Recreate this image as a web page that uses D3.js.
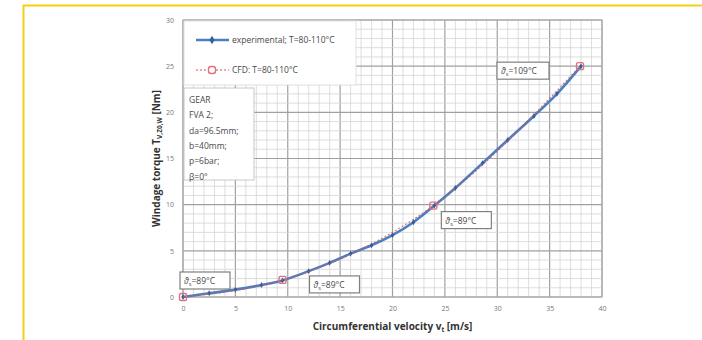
<!DOCTYPE html>
<html>
<head>
<meta charset="utf-8">
<script src="https://cdn.jsdelivr.net/npm/d3@7/dist/d3.min.js"></script>
<style>
  body { margin: 0; background: #fff; }
  svg { display: block; font-family: "Open Sans", "Liberation Sans", sans-serif; }
</style>
</head>
<body>
<svg id="chart" width="702" height="340"></svg>
<script>
// ticks
var xTicks = [0, 5, 10, 15, 20, 25, 30, 35, 40];
var yTicks = [0, 5, 10, 15, 20, 25, 30];

// experimental measurement, T = 80-110 °C
var expV = [0, 2.5, 5, 7.5, 9.5, 12, 14, 16, 18, 20, 22, 24, 26, 28.6, 31, 33.5, 35.7, 38];
var expT = [0, 0.4, 0.8, 1.3, 1.8, 2.8, 3.7, 4.7, 5.6, 6.7, 8.1, 9.9, 11.8, 14.5, 17.0, 19.6, 22.0, 25];

// CFD simulation
var cfdV = [0, 9.5, 23.9, 37.9];
var cfdT = [0, 1.85, 9.9, 25];
var cfdTemp = ["89", "89", "89", "109"];

// gear parameters
var gearInfo = ["GEAR", "FVA 2;", "da=96.5mm;", "b=40mm;", "p=6bar;", "β=0°"];

var svg = d3.select("#chart");

// yellow frame
svg.append("path")
    .attr("d", "M23.5,340 L23.5,5.5 L702,5.5")
    .attr("fill", "none")
    .attr("stroke", "#f4cf12")
    .attr("stroke-width", 2);

var x = d3.scaleLinear().domain([0, 40]).range([183, 602]);
var y = d3.scaleLinear().domain([0, 30]).range([297, 20]);

// grid
var g = svg.append("g");
g.selectAll(".minx").data(d3.range(0, 41, 1)).enter().append("line")
    .attr("x1", d => x(d)).attr("x2", d => x(d))
    .attr("y1", y(0)).attr("y2", y(30))
    .attr("stroke", d => d % 5 == 0 ? "#a0a0a0" : "#d4d4d4")
    .attr("stroke-width", d => d % 5 == 0 ? 1.2 : 0.8);
g.selectAll(".miny").data(d3.range(0, 31, 1)).enter().append("line")
    .attr("y1", d => y(d)).attr("y2", d => y(d))
    .attr("x1", x(0)).attr("x2", x(40))
    .attr("stroke", d => d % 5 == 0 ? "#a0a0a0" : "#d4d4d4")
    .attr("stroke-width", d => d % 5 == 0 ? 1.2 : 0.8);
g.append("rect")
    .attr("x", x(0)).attr("y", y(30))
    .attr("width", x(40) - x(0)).attr("height", y(0) - y(30))
    .attr("fill", "none").attr("stroke", "#a8a8a8");

// axes
var xAxis = d3.axisBottom(x).tickValues(xTicks).tickSize(0).tickPadding(9);
var yAxis = d3.axisLeft(y).tickValues(yTicks).tickSize(0).tickPadding(9);
svg.append("g").attr("transform", "translate(0," + y(0) + ")").call(xAxis)
    .call(a => a.select(".domain").remove());
svg.append("g").attr("transform", "translate(" + x(0) + ",0)").call(yAxis)
    .call(a => a.select(".domain").remove());
svg.selectAll(".tick text").attr("fill", "#777").attr("font-size", 7)
    .attr("font-family", "Open Sans, sans-serif");

// legend box
svg.append("rect").attr("x", 184).attr("y", 21).attr("width", 172).attr("height", 64)
    .attr("fill", "#fff").attr("stroke", "#e0e0e0");
// parameters box
svg.append("rect").attr("x", 184).attr("y", 88).attr("width", 70).attr("height", 92)
    .attr("fill", "#fff").attr("stroke", "#c8c8c8");
svg.append("g").selectAll("text").data(gearInfo).enter().append("text")
    .attr("x", 189).attr("y", (d, i) => 103 + i * 15.3)
    .attr("font-size", 8.5).attr("fill", "#484848").text(d => d);

// lines
var expLine = d3.line().curve(d3.curveCatmullRom);
var cfdLine = d3.line().curve(d3.curveMonotoneX);
var expPts = expV.map((v, i) => [x(v), y(expT[i])]);
var cfdPts = cfdV.map((v, i) => [x(v), y(cfdT[i])]);

svg.append("path").attr("d", expLine(expPts))
    .attr("fill", "none").attr("stroke", "#4a7fc1").attr("stroke-width", 2.6);
svg.append("g").selectAll("path").data(expPts).enter().append("path")
    .attr("d", d3.symbol(d3.symbolDiamond, 10))
    .attr("transform", d => "translate(" + d[0] + "," + d[1] + ")")
    .attr("fill", "#2f5f9e");

svg.append("path").attr("d", cfdLine(cfdPts))
    .attr("fill", "none").attr("stroke", "#d9534f").attr("stroke-width", 1.1)
    .attr("stroke-dasharray", "2,2").attr("opacity", 0.8);
svg.append("g").selectAll("rect").data(cfdPts).enter().append("rect")
    .attr("x", d => d[0] - 3.5).attr("y", d => d[1] - 3.5)
    .attr("width", 7).attr("height", 7).attr("rx", 1.5)
    .attr("fill", "none").attr("stroke", "#e0707a").attr("stroke-width", 1.4);

// temperature labels
var labelOff = [[-3, -25], [27, -4], [8, 6], [-83, -4]];
var lab = svg.append("g").selectAll("g").data(cfdPts).enter().append("g")
    .attr("transform", (d, i) => "translate(" + (d[0] + labelOff[i][0]) + "," + (d[1] + labelOff[i][1]) + ")");
lab.append("rect").attr("width", (d, i) => i == 3 ? 52 : 50).attr("height", 17)
    .attr("fill", "#fff").attr("stroke", "#808080").attr("stroke-width", 1.2);
var lt = lab.append("text").attr("x", 4).attr("y", 12)
    .attr("font-size", 8.5).attr("fill", "#484848");
lt.append("tspan").attr("font-style", "italic").text("ϑ");
lt.append("tspan").attr("font-size", 5.5).attr("dy", 2).text("s");
lt.append("tspan").attr("dy", -2).text((d, i) => "=" + cfdTemp[i] + "°C");

// legend entries
svg.append("line").attr("x1", 196).attr("x2", 229).attr("y1", 40).attr("y2", 40)
    .attr("stroke", "#4a7fc1").attr("stroke-width", 2.6);
svg.append("path").attr("d", d3.symbol(d3.symbolDiamond, 22))
    .attr("transform", "translate(212,40)").attr("fill", "#2f5f9e");
svg.append("text").attr("x", 232).attr("y", 43).attr("font-size", 8.5)
    .attr("fill", "#484848").text("experimental; T=80-110°C");
svg.append("line").attr("x1", 196).attr("x2", 229).attr("y1", 70).attr("y2", 70)
    .attr("stroke", "#d9534f").attr("stroke-width", 1.1).attr("stroke-dasharray", "2,2");
svg.append("rect").attr("x", 208.5).attr("y", 66.5).attr("width", 7).attr("height", 7).attr("rx", 2.5)
    .attr("fill", "#fff").attr("stroke", "#e0707a").attr("stroke-width", 1.4);
svg.append("text").attr("x", 232).attr("y", 73).attr("font-size", 8.5)
    .attr("fill", "#484848").text("CFD: T=80-110°C");

// axis titles
var yt = svg.append("text")
    .attr("transform", "translate(160," + ((y(0) + y(30)) / 2) + ") rotate(-90)")
    .attr("text-anchor", "middle").attr("font-size", 10).attr("font-weight", "bold")
    .attr("fill", "#333");
yt.append("tspan").text("Windage torque T");
yt.append("tspan").attr("font-size", 6.5).attr("dy", 2).text("V,Z0,W");
yt.append("tspan").attr("dy", -2).text(" [Nm]");

var xt = svg.append("text")
    .attr("x", (x(0) + x(40)) / 2).attr("y", 330)
    .attr("text-anchor", "middle").attr("font-size", 10).attr("font-weight", "bold")
    .attr("fill", "#333");
xt.append("tspan").text("Circumferential velocity v");
xt.append("tspan").attr("font-size", 6.5).attr("dy", 2).text("t");
xt.append("tspan").attr("dy", -2).text(" [m/s]");
</script>
</body>
</html>
